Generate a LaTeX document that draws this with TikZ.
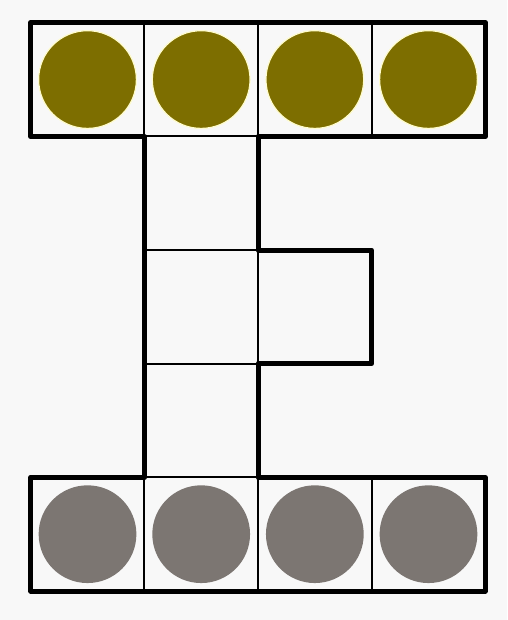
\documentclass[tikz,border=0pt]{standalone}
\usepackage{tkz-euclide}
\definecolor{olivedot}{RGB}{125,110,0}
\definecolor{greydot}{RGB}{124,118,114}
\definecolor{paper}{RGB}{248,248,248}

\begin{document}
\begin{tikzpicture}[scale=1]
            \fill[paper] (-0.27,-0.255) rectangle (4.195,5.2);
            \foreach \x in {0,...,4}{
              \foreach \y in {0,...,5}{
                \tkzDefPoint(\x,\y){p\x\y}
              }
            }
            \foreach \x in {0,...,3}{
              \fill[olivedot,draw=yellow!20,line width=0.3pt] (\x+0.5,4.5) circle (0.43);
              \fill[greydot] (\x+0.5,0.5) circle (0.43);
            }
            \tkzDrawSegments[line width=0.45pt](p14,p15 p24,p25 p34,p35 p10,p11 p20,p21 p30,p31)
            \tkzDrawSegments[line width=0.45pt](p14,p24 p13,p23 p12,p22 p11,p21 p22,p23)
            \tkzDrawPolygon[line width=1.25pt](p05,p45,p44,p24,p23,p33,p32,p22,p21,p41,p40,p00,p01,p11,p14,p04)
        \end{tikzpicture}
\end{document}
